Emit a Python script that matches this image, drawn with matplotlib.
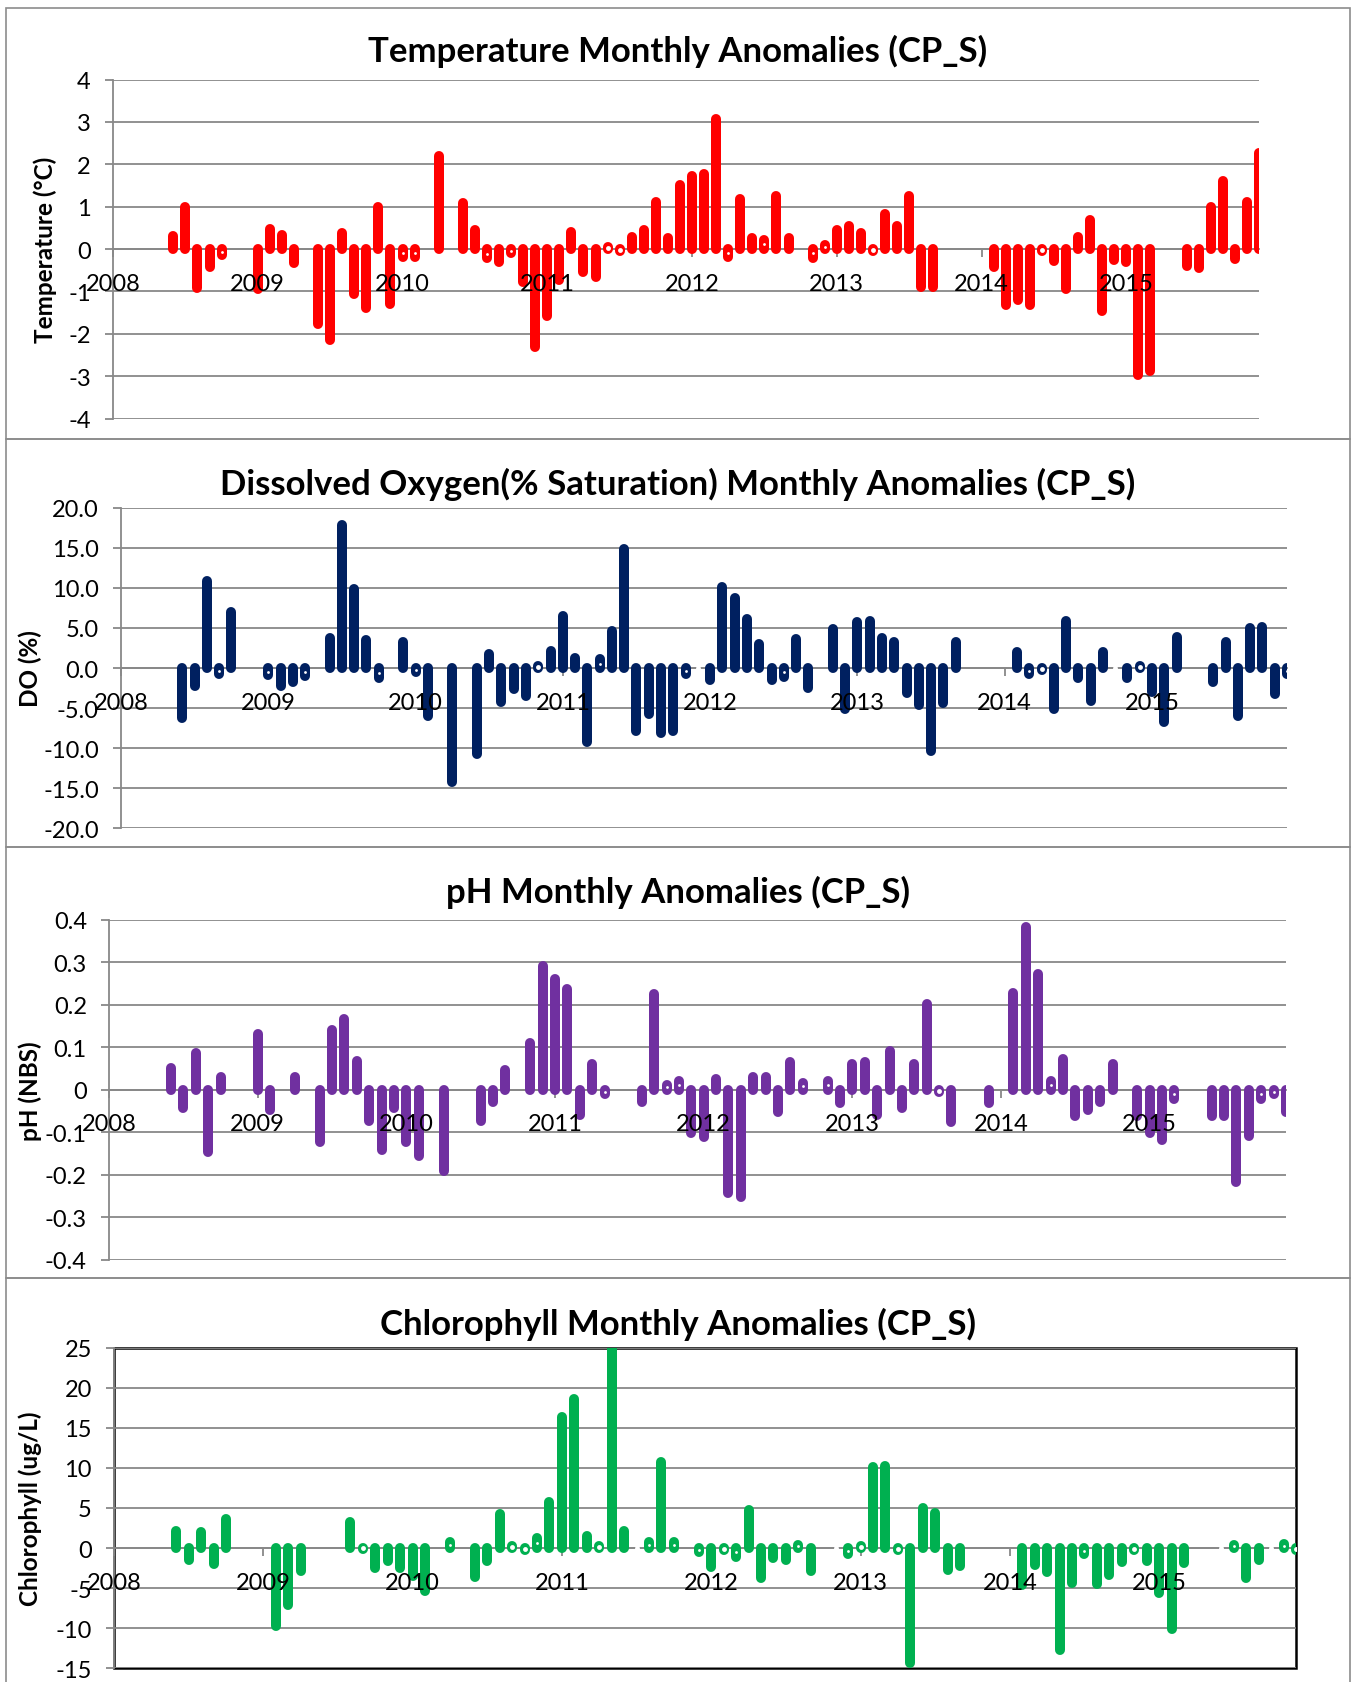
import numpy as np
import matplotlib
matplotlib.use("Agg")
import matplotlib.pyplot as plt
from matplotlib.patches import Rectangle

nan = np.nan

# monthly index 0 = Jan 2008 ... 95 = Dec 2015
years = [str(y) for y in range(2008, 2016)]

temp = [nan, nan, nan, nan, nan, 0.30, 1.00, -0.92, -0.42, -0.15, nan, nan,
        -0.95, 0.47, 0.34, -0.34, nan, -1.76, -2.14, 0.39, -1.06, -1.38, 1.00, -1.30,
        -0.18, -0.19, nan, 2.19, nan, 1.08, 0.45, -0.22, -0.30, -0.10, -0.78, -2.31,
        -1.59, -0.73, 0.41, -0.53, -0.67, 0.05, -0.05, 0.29, 0.45, 1.10, 0.27, 1.50,
        1.72, 1.78, 3.07, -0.18, 1.18, 0.25, 0.22, 1.24, 0.27, nan, -0.20, 0.09,
        0.45, 0.55, 0.39, -0.05, 0.82, 0.55, 1.25, -0.90, -0.90, nan, nan, nan,
        nan, -0.43, -1.32, -1.20, -1.33, -0.05, -0.28, -0.94, 0.29, 0.69, -1.47, -0.27,
        -0.30, -2.98, -2.88, nan, nan, -0.39, -0.45, 1.00, 1.60, -0.24, 1.11, 2.27]

do = [nan, nan, nan, nan, nan, -6.3, -2.2, 10.8, -0.7, 7.0, nan, nan,
      -0.9, -2.2, -1.7, -1.0, nan, 3.8, 17.9, 9.8, 3.5, -1.2, nan, 3.3,
      -0.5, -6.0, nan, -14.2, nan, -10.7, 1.7, -4.2, -2.6, -3.5, 0.3, 2.1,
      6.5, 1.3, -9.2, 1.1, 4.6, 14.8, -7.8, -5.8, -8.1, -7.8, -0.75, 0.0,
      -1.5, 10.1, 8.7, 6.1, 3.0, -1.5, -1.1, 3.6, -2.5, nan, 4.9, -5.1,
      5.7, 5.9, 3.8, 3.2, -3.1, -4.6, -10.4, -4.4, 3.2, nan, nan, nan,
      nan, 2.0, -0.8, -0.3, -5.1, 5.9, -1.3, -4.1, 2.0, 0.0, -1.3, 0.2,
      -3.0, -6.7, 3.9, nan, nan, -1.7, 3.2, -6.0, 5.0, 5.1, -3.2, -0.8]

ph = [nan, nan, nan, nan, nan, 0.051, -0.043, 0.086, -0.147, 0.031, nan, nan,
      0.132, -0.048, nan, 0.031, nan, -0.122, 0.141, 0.167, 0.067, -0.073, -0.141, -0.042,
      -0.122, -0.155, nan, -0.192, nan, nan, -0.073, -0.028, 0.046, nan, 0.110, 0.292,
      0.261, 0.236, -0.060, 0.061, -0.010, nan, nan, -0.028, 0.225, 0.012, 0.021, -0.102,
      -0.112, 0.026, -0.242, -0.252, 0.031, 0.031, -0.052, 0.066, 0.016, nan, 0.021, -0.032,
      0.061, 0.066, -0.060, 0.092, -0.042, 0.061, 0.202, -0.005, -0.077, nan, nan, -0.032,
      nan, 0.228, 0.382, 0.273, 0.021, 0.072, -0.063, -0.048, -0.028, 0.061, nan, -0.061,
      -0.102, -0.118, -0.022, nan, nan, -0.063, -0.063, -0.218, -0.108, -0.022, -0.010, -0.052]

chl = [nan, nan, nan, nan, nan, 2.1, -1.5, 2.0, -2.0, 3.6, nan, nan,
       nan, -9.7, -7.1, -2.8, nan, nan, nan, 3.3, -0.1, -2.5, -1.6, -2.5,
       -3.5, -5.4, nan, 0.7, nan, -3.6, -1.6, 4.3, 0.3, -0.2, 1.2, 5.7,
       16.3, 18.6, 1.5, 0.2, 27.0, 2.1, 0.0, 0.7, 10.7, 0.7, nan, -0.5,
       -2.3, -0.3, -1.1, 4.8, -3.7, -1.3, -1.5, 0.4, -2.8, nan, 0.0, -0.8,
       0.3, 10.1, 10.3, -0.3, -14.3, 5.0, 4.4, -2.7, -2.2, nan, nan, nan,
       nan, -4.6, -2.1, -3.0, -12.7, -4.3, -0.7, -4.5, -3.3, -1.7, -0.3, -1.6,
       -5.6, -10.1, -1.8, nan, nan, 0.0, 0.4, -3.7, -1.5, 0.0, 0.5, -0.2]

W, H = 1352, 1683
FONT = "Lato"
GRID = "#888888"

panels = [
    dict(vals=temp, color="#FF0000", title="Temperature Monthly Anomalies (CP_S)",
         ylabel="Temperature (\u00b0C)", ylim=(-4, 4), step=1, fmt=lambda v: f"{v:g}",
         box=(113, 80.5, 1259, 419.6), border=(6, 9, 1350, 440), title_y=51,
         ylab_x=45, frame=False),
    dict(vals=do, color="#002060", title="Dissolved Oxygen(% Saturation) Monthly Anomalies (CP_S)",
         ylabel="DO (%)", ylim=(-20, 20), step=5, fmt=lambda v: f"{v:.1f}",
         box=(121, 508.7, 1287, 829.3), border=(6, 440, 1350, 848), title_y=484,
         ylab_x=30, frame=False),
    dict(vals=ph, color="#7030A0", title="pH Monthly Anomalies (CP_S)",
         ylabel="pH (NBS)", ylim=(-0.4, 0.4), step=0.1, fmt=lambda v: "0" if abs(v) < 1e-9 else f"{v:.1f}",
         box=(109, 920.7, 1286, 1260.7), border=(6, 848, 1350, 1279), title_y=892,
         ylab_x=30, frame=False),
    dict(vals=chl, color="#00B050", title="Chlorophyll Monthly Anomalies (CP_S)",
         ylabel="Chlorophyll (ug/L)", ylim=(-15, 25), step=5, fmt=lambda v: f"{v:g}",
         box=(114, 1348.7, 1296, 1669.3), border=(6, 1279, 1350, 1690), title_y=1324,
         ylab_x=30, frame=True),
]

fig = plt.figure(figsize=(W / 100, H / 100), dpi=100)
fig.patch.set_facecolor("white")

for p in panels:
    bl, bt, br, bb = p["border"]
    fig.add_artist(Rectangle((bl / W, 1 - bb / H), (br - bl) / W, (bb - bt) / H,
                             transform=fig.transFigure, fill=False,
                             edgecolor="#8c8c8c", linewidth=1.2))

    left, top, right, bottom = p["box"]
    ax = fig.add_axes([left / W, 1 - bottom / H, (right - left) / W, (bottom - top) / H])
    ymin, ymax = p["ylim"]
    ax.set_xlim(0, 95)
    ax.set_ylim(ymin, ymax)

    for s in ["top", "right"]:
        ax.spines[s].set_visible(False)
    ax.spines["bottom"].set_position(("data", 0))
    ax.spines["bottom"].set_color(GRID)
    ax.spines["bottom"].set_linewidth(1.3)
    ax.spines["left"].set_color(GRID)
    ax.spines["left"].set_linewidth(1.3)

    yt = np.round(np.arange(ymin, ymax + p["step"] / 2, p["step"]), 6)
    ax.set_yticks(yt)
    ax.set_yticklabels([p["fmt"](v) for v in yt])
    ax.set_xticks(np.arange(0, 96, 12))
    ax.set_xticklabels([])
    ax.yaxis.grid(True, color=GRID, linewidth=1.3)
    ax.tick_params(axis="y", colors=GRID, labelcolor="black", length=6, width=1.3, pad=10,
                   labelsize=17, labelfontfamily=FONT)
    ax.tick_params(axis="x", colors=GRID, length=6, width=1.3)

    # year labels drawn above the bars, as in the original
    for m, lab in zip(np.arange(0, 96, 12), years):
        ax.annotate(lab, xy=(m, 0), xytext=(0, -17), textcoords="offset points",
                    ha="center", va="top", fontsize=17, family=FONT,
                    zorder=6, annotation_clip=False)

    if p["frame"]:
        ax.add_patch(Rectangle((0, 0), 1, 1, transform=ax.transAxes, fill=False,
                               edgecolor="black", linewidth=1.8, clip_on=False, zorder=1))

    vals = np.array(p["vals"], dtype=float)
    x = np.arange(len(vals))
    ok = ~np.isnan(vals)
    lc = ax.vlines(x[ok], 0, vals[ok], colors=p["color"], linewidth=7.2, zorder=3)
    lc.set_capstyle("round")

    # tiny anomalies show a white centre like the original rendering
    px_per_unit = (bottom - top) / (ymax - ymin)
    for xi, v in zip(x[ok], vals[ok]):
        length = abs(v) * px_per_unit
        if length < 10:
            ms = 3.5 if length < 3 else 2.0
            ax.plot(xi, v / 2, "o", color="white", markersize=ms, markeredgewidth=0, zorder=4)

    fig.text(678 / W, 1 - p["title_y"] / H, p["title"], ha="center", va="center",
             fontsize=25, fontweight="bold", family=FONT)
    fig.text(p["ylab_x"] / W, 1 - (top + bottom) / 2 / H, p["ylabel"], ha="center", va="center",
             rotation=90, fontsize=17.5, fontweight="bold", family=FONT)

fig.savefig("out.png", dpi=100, facecolor="white")
